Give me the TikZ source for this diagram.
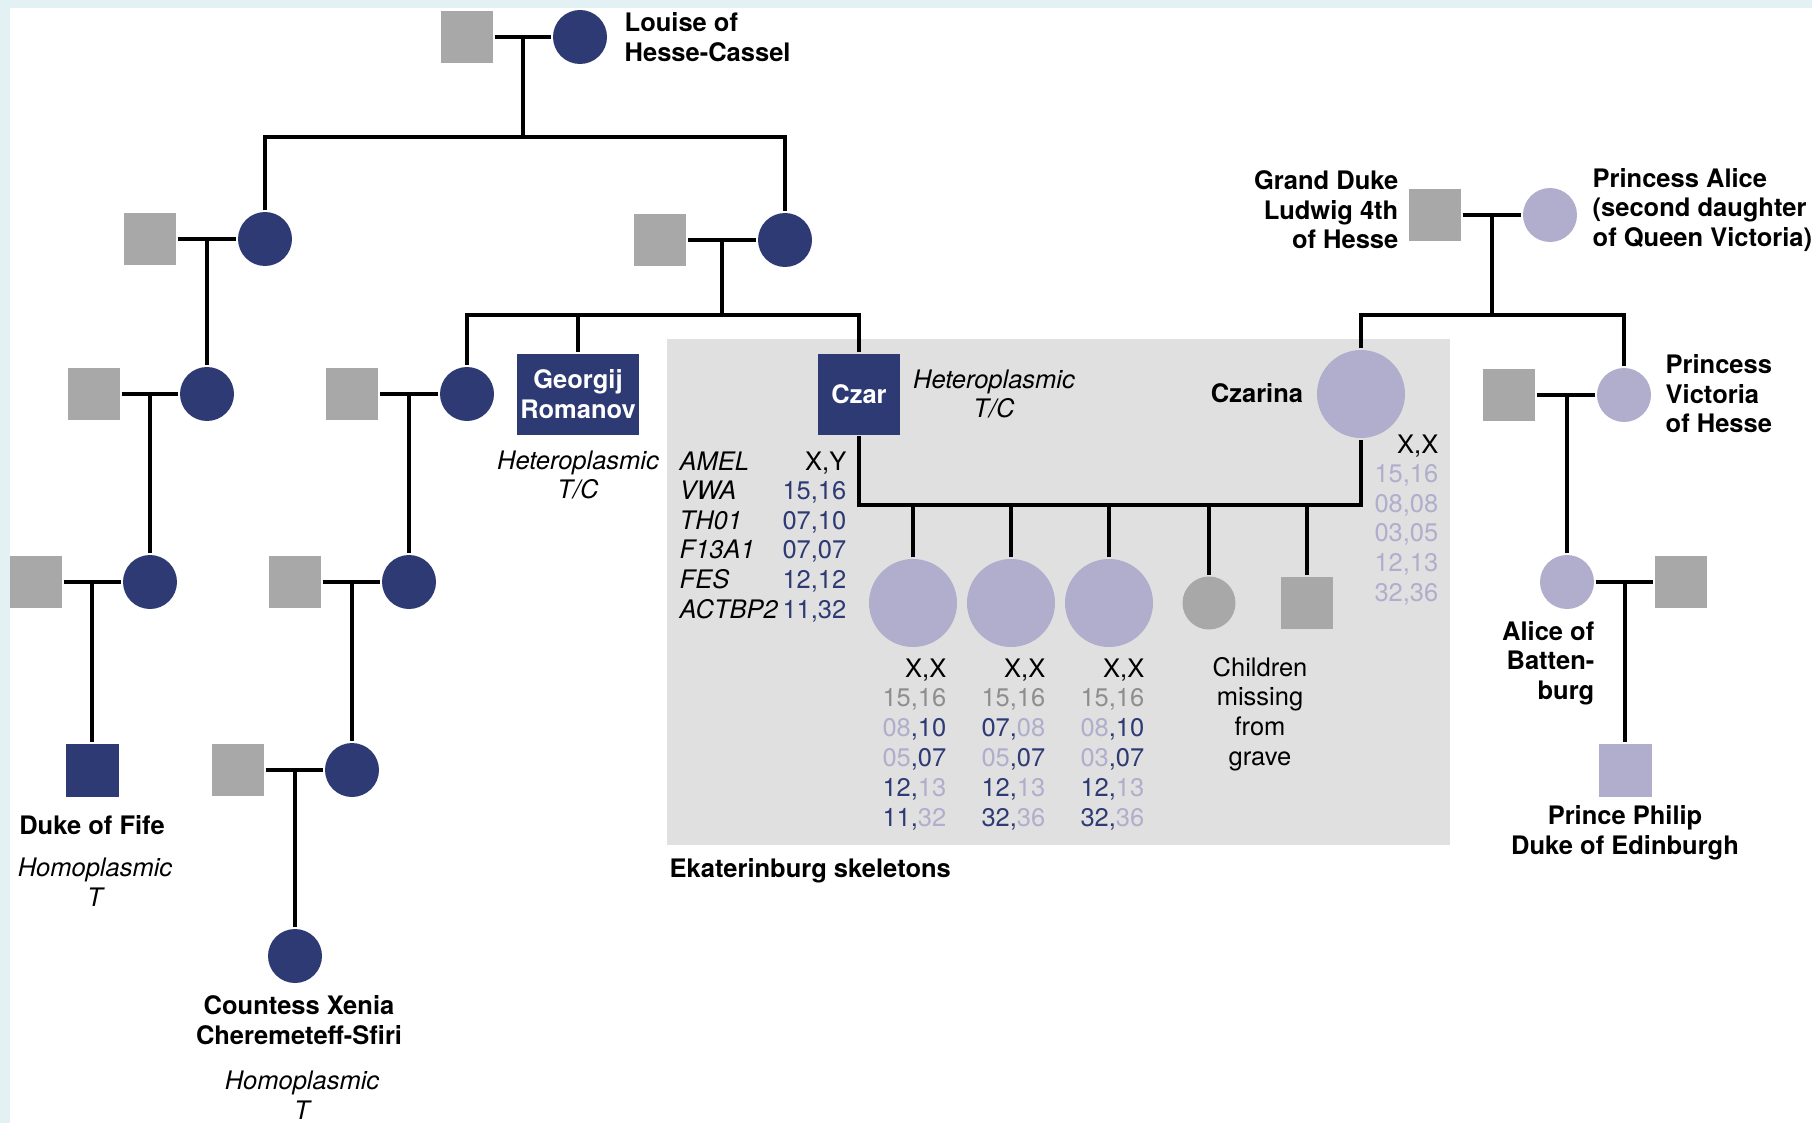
\documentclass[tikz,border=0pt]{standalone}
\usepackage{fontspec}
\setmainfont{TeX Gyre Heros}
\definecolor{navy}{HTML}{2E3A74}
\definecolor{pgray}{HTML}{A8A8A8}
\definecolor{lav}{HTML}{B0AECC}
\definecolor{boxbg}{HTML}{E0E0E0}
\definecolor{edgec}{HTML}{E4F1F4}
\definecolor{numgray}{HTML}{8E8E8E}
\newcommand\cnav[1]{\textcolor{navy}{#1}}
\newcommand\clav[1]{\textcolor{lav}{#1}}
\newcommand\cgry[1]{\textcolor{numgray}{#1}}
\begin{document}
\begin{tikzpicture}[x=1pt,y=-1pt,line width=3.4pt,
  txt/.style={inner sep=0pt,font=\fontsize{25.5}{29.6}\selectfont},
  itx/.style={inner sep=0pt,font=\fontsize{25.5}{29.6}\selectfont\itshape},
  btx/.style={inner sep=0pt,font=\fontsize{25.5}{29.6}\selectfont\bfseries},
  gsq/.style={rectangle,fill=pgray,minimum size=52pt,inner sep=0pt},
  lsq/.style={rectangle,fill=lav,minimum size=53pt,inner sep=0pt},
  nsq/.style={rectangle,fill=navy,minimum size=53pt,inner sep=0pt},
  nc/.style={circle,fill=navy,minimum size=54pt,inner sep=0pt},
  lc/.style={circle,fill=lav,minimum size=54pt,inner sep=0pt},
  bigc/.style={circle,fill=lav,minimum size=88pt,inner sep=0pt},
  gc/.style={circle,fill=pgray,minimum size=53pt,inner sep=0pt}]
\useasboundingbox (0,0) rectangle (1812,1123);
\fill[edgec] (0,0) rectangle (1812,1123);
\fill[white] (10,8) rectangle (1812,1123);
\fill[boxbg] (667,339) rectangle (1450,845);

% ---------- left tree ----------
\node[gsq] (s0) at (467,37) {};
\node[nc] (louise) at (580,37) {};
\coordinate (j0) at (523,37);
\coordinate (b0) at (523,137);
\node[btx,anchor=west,align=left] (tlouise) at (623,37) {Louise of\\Hesse-Cassel};

\node[gsq] (sA) at (150,239) {};
\node[nc] (cA) at (265,239) {};
\coordinate (jA) at (207,239);
\node[gsq] (sB) at (660,240) {};
\node[nc] (cB) at (785,240) {};
\coordinate (jB) at (722,240);
\coordinate (bB) at (722,315);

\node[gsq] (sC) at (94,394) {};
\node[nc] (cC) at (207,394) {};
\coordinate (jC) at (150,394);
\node[gsq] (sD) at (352,394) {};
\node[nc] (cD) at (467,394) {};
\coordinate (jD) at (409,394);
\node[rectangle,fill=navy,minimum width=122pt,minimum height=81pt,inner sep=0pt,text=white,align=center,font=\fontsize{25.5}{29.6}\selectfont\bfseries] (georgij) at (578,394) {Georgij\\Romanov};
\node[itx,align=center] (tgeo) at (578,475) {Heteroplasmic\\T/C};
\node[rectangle,fill=navy,minimum width=82pt,minimum height=81pt,inner sep=0pt,text=white,font=\fontsize{25.5}{29.6}\selectfont\bfseries] (czar) at (859,394) {Czar};
\node[itx,align=center] (tczar) at (994,394) {Heteroplasmic\\T/C};

\node[gsq] (sE) at (36,582) {};
\node[nc] (cE) at (150,582) {};
\coordinate (jE) at (92,582);
\node[gsq] (sF) at (295,582) {};
\node[nc] (cF) at (409,582) {};
\coordinate (jF) at (352,582);

\node[nsq] (fife) at (92,770) {};
\node[btx] (tfife) at (92,825) {Duke of Fife};
\node[itx,align=center] (tfife2) at (95,882) {Homoplasmic\\T};
\node[gsq] (sG) at (238,770) {};
\node[nc] (cG) at (352,770) {};
\coordinate (jG) at (295,770);
\node[nc] (xenia) at (295,956) {};
\node[btx,align=center] (txenia) at (299,1020) {Countess Xenia\\Cheremeteff-Sfiri};
\node[itx,align=center] (txenia2) at (302,1095) {Homoplasmic\\T};

% ---------- right tree ----------
\node[gsq] (gd) at (1435,215) {};
\node[lc] (pa) at (1550,215) {};
\coordinate (jH) at (1492,215);
\coordinate (bH) at (1492,315);
\node[btx,anchor=east,align=right] (tgd) at (1400,210) {Grand Duke\\Ludwig 4th\\of Hesse};
\node[btx,anchor=west,align=left] (tpa) at (1591,210) {Princess Alice\\(second daughter\\of Queen Victoria)};
\node[bigc] (czarina) at (1361,394) {};
\node[btx] (tczarina) at (1257,393) {Czarina};
\node[gsq] (pvs) at (1509,395) {};
\node[lc] (pvc) at (1624,395) {};
\coordinate (jV) at (1567,395);
\node[btx,anchor=west,align=left] (tpv) at (1664,394) {Princess\\Victoria\\of Hesse};
\node[lc] (ab) at (1567,582) {};
\node[gsq] (abs) at (1681,582) {};
\coordinate (jAB) at (1625,582);
\node[btx,anchor=east,align=right] (tab) at (1596,663) {Alice of\\Batten-\\burg};
\node[lsq] (philip) at (1625,770) {};
\node[btx,align=center] (tphilip) at (1625,833) {Prince Philip\\Duke of Edinburgh};

% ---------- children of Czar ----------
\coordinate (bc) at (1100,505);
\node[bigc] (k1) at (913,603) {};
\node[bigc] (k2) at (1011,603) {};
\node[bigc] (k3) at (1109,603) {};
\node[gc] (k4) at (1209,603) {};
\node[gsq] (k5) at (1307,603) {};
\node[txt,align=center] (tmiss) at (1260,714) {Children\\missing\\from\\grave};
\node[btx,anchor=west] (tekat) at (668,871) {Ekaterinburg skeletons};

% ---------- connectors ----------
\draw (s0) -- (louise);
\draw (j0) -- (b0);
\draw (cA.north) |- (b0) -| (cB.north);
\draw (sA) -- (cA);
\draw (jA) -- (cC);
\draw (sB) -- (cB);
\draw (jB) -- (bB);
\draw (cD.north) |- (bB) -| (czar.north);
\draw (georgij.north) -- (georgij.north |- bB);
\draw (sC) -- (cC);
\draw (jC) -- (cE);
\draw (sD) -- (cD);
\draw (jD) -- (cF);
\draw (sE) -- (cE);
\draw (jE) -- (fife);
\draw (sF) -- (cF);
\draw (jF) -- (cG);
\draw (sG) -- (cG);
\draw (jG) -- (xenia);
\draw (gd) -- (pa);
\draw (jH) -- (bH);
\draw (czarina.north) |- (bH) -| (pvc.north);
\draw (pvs) -- (pvc);
\draw (jV) -- (ab);
\draw (ab) -- (abs);
\draw (jAB) -- (philip);
\draw (czar.south) |- (bc) -| (czarina.south);
\foreach \k in {k1,k2,k3,k4,k5} \draw (\k.north) -- (\k.north |- bc);

% ---------- genotype table ----------
\node[itx,anchor=base west] (l1) at (678,470) {AMEL};
\node[itx,anchor=base west] (l2) at (678,499.6) {VWA};
\node[itx,anchor=base west] (l3) at (678,529.2) {TH01};
\node[itx,anchor=base west] (l4) at (678,558.8) {F13A1};
\node[itx,anchor=base west] (l5) at (678,588.4) {FES};
\node[itx,anchor=base west] (l6) at (678,618) {ACTBP2};
\node[txt,anchor=base east] (v1) at (848,470) {X,Y};
\node[txt,anchor=base east] (v2) at (848,499.6) {\cnav{15,16}};
\node[txt,anchor=base east] (v3) at (848,529.2) {\cnav{07,10}};
\node[txt,anchor=base east] (v4) at (848,558.8) {\cnav{07,07}};
\node[txt,anchor=base east] (v5) at (848,588.4) {\cnav{12,12}};
\node[txt,anchor=base east] (v6) at (848,618) {\cnav{11,32}};

\node[txt,anchor=base east] (w1) at (1440,453) {X,X};
\node[txt,anchor=base east] (w2) at (1440,482.6) {\clav{15,16}};
\node[txt,anchor=base east] (w3) at (1440,512.2) {\clav{08,08}};
\node[txt,anchor=base east] (w4) at (1440,541.8) {\clav{03,05}};
\node[txt,anchor=base east] (w5) at (1440,571.4) {\clav{12,13}};
\node[txt,anchor=base east] (w6) at (1440,601) {\clav{32,36}};

\node[txt,anchor=base east] (a1) at (948,677) {X,X};
\node[txt,anchor=base east] (a2) at (948,706.8) {\cgry{15,16}};
\node[txt,anchor=base east] (a3) at (948,736.6) {\clav{08}\cnav{,10}};
\node[txt,anchor=base east] (a4) at (948,766.4) {\clav{05}\cnav{,07}};
\node[txt,anchor=base east] (a5) at (948,796.2) {\cnav{12,}\clav{13}};
\node[txt,anchor=base east] (a6) at (948,826) {\cnav{11,}\clav{32}};

\node[txt,anchor=base east] (b1) at (1047,677) {X,X};
\node[txt,anchor=base east] (b2) at (1047,706.8) {\cgry{15,16}};
\node[txt,anchor=base east] (b3) at (1047,736.6) {\cnav{07,}\clav{08}};
\node[txt,anchor=base east] (b4) at (1047,766.4) {\clav{05}\cnav{,07}};
\node[txt,anchor=base east] (b5) at (1047,796.2) {\cnav{12,}\clav{13}};
\node[txt,anchor=base east] (b6) at (1047,826) {\cnav{32,}\clav{36}};

\node[txt,anchor=base east] (c1) at (1146,677) {X,X};
\node[txt,anchor=base east] (c2) at (1146,706.8) {\cgry{15,16}};
\node[txt,anchor=base east] (c3) at (1146,736.6) {\clav{08}\cnav{,10}};
\node[txt,anchor=base east] (c4) at (1146,766.4) {\clav{03}\cnav{,07}};
\node[txt,anchor=base east] (c5) at (1146,796.2) {\cnav{12,}\clav{13}};
\node[txt,anchor=base east] (c6) at (1146,826) {\cnav{32,}\clav{36}};
\end{tikzpicture}
\end{document}
